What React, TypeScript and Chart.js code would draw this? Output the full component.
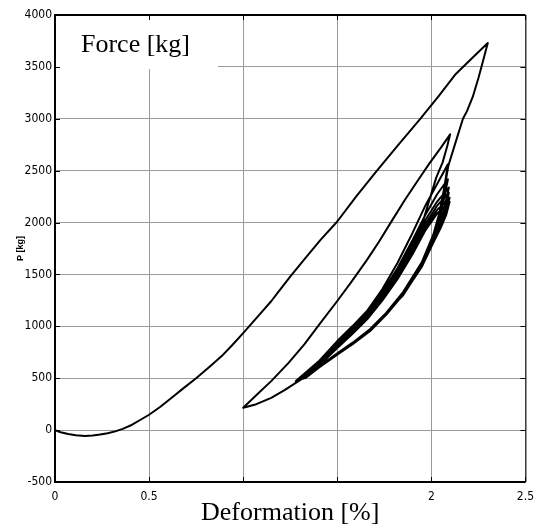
import React, { useEffect, useRef } from "react";
import { Chart, registerables } from "chart.js";

Chart.register(...registerables);

type Pt = [number, number];

// Deformation [%], P [kg], branch by branch
const virginLoading: Pt[] = [
  [0, 0], [0.03, -20], [0.07, -38], [0.11, -50], [0.16, -57], [0.2, -52], [0.24, -42],
  [0.28, -30], [0.32, -12], [0.36, 12], [0.41, 52], [0.45, 95], [0.5, 148], [0.56, 225],
  [0.62, 312], [0.68, 400], [0.75, 500], [0.82, 608], [0.886, 713], [0.94, 815], [1.0, 935],
  [1.09, 1120], [1.15, 1244], [1.184, 1324], [1.25, 1480], [1.325, 1646], [1.41, 1830],
  [1.5, 2010], [1.6, 2250], [1.71, 2497], [1.82, 2740], [1.94, 2996], [2.04, 3220],
  [2.13, 3432], [2.22, 3590], [2.30, 3730],
];
const firstUnloading: Pt[] = [
  [2.30, 3730], [2.275, 3560], [2.25, 3390], [2.22, 3210], [2.19, 3076], [2.168, 3000],
  [2.13, 2780], [2.09, 2545], [2.07, 2330], [2.045, 2060], [2.01, 1830], [1.96, 1620],
  [1.9, 1440], [1.85, 1300], [1.76, 1130], [1.675, 960], [1.58, 830], [1.5, 728],
  [1.4, 600], [1.3, 480], [1.22, 385], [1.149, 311], [1.07, 250], [1.0, 215],
];
const reload1: Pt[] = [
  [1.0, 215], [1.075, 345], [1.149, 472], [1.24, 645], [1.325, 826], [1.41, 1030],
  [1.5, 1244], [1.58, 1440], [1.658, 1640], [1.72, 1810], [1.79, 2016], [1.86, 2220],
  [1.93, 2410], [1.99, 2570], [2.05, 2720], [2.10, 2850],
];
const unload2: Pt[] = [
  [2.10, 2850], [2.085, 2740], [2.06, 2580], [2.026, 2433], [1.99, 2220], [1.956, 2015],
  [1.9, 1790], [1.83, 1560], [1.75, 1340], [1.66, 1120], [1.56, 910], [1.46, 740],
  [1.37, 590], [1.28, 472],
];
const reload3: Pt[] = [
  [1.28, 472], [1.4, 660], [1.5, 858], [1.58, 1000], [1.658, 1148], [1.74, 1360],
  [1.82, 1610], [1.9, 1900], [1.97, 2170], [2.03, 2370], [2.088, 2562],
];
const unload3: Pt[] = [
  [2.088, 2562], [2.07, 2350], [2.044, 2100], [2.01, 1880], [1.95, 1620], [1.85, 1330],
  [1.76, 1130], [1.675, 975], [1.58, 840], [1.5, 740], [1.4, 610], [1.3, 485],
];
const reload4: Pt[] = [
  [1.3, 485], [1.4, 640], [1.5, 830], [1.58, 975], [1.66, 1130], [1.74, 1330],
  [1.82, 1560], [1.9, 1830], [1.97, 2080], [2.03, 2270], [2.088, 2417],
];
const unload4: Pt[] = [
  [2.088, 2417], [2.07, 2250], [2.044, 2050], [2.01, 1850], [1.95, 1600], [1.85, 1318],
  [1.76, 1120], [1.675, 965], [1.58, 835], [1.5, 735], [1.4, 605], [1.31, 490],
];
const reload5: Pt[] = [
  [1.31, 490], [1.4, 630], [1.5, 815], [1.58, 960], [1.66, 1110], [1.74, 1300],
  [1.82, 1520], [1.9, 1780], [1.97, 2030], [2.03, 2200], [2.093, 2337],
];
const unload5: Pt[] = [
  [2.093, 2337], [2.075, 2190], [2.05, 2020], [2.01, 1835], [1.95, 1590], [1.85, 1312],
  [1.76, 1118], [1.675, 960], [1.58, 832], [1.5, 732], [1.4, 603], [1.32, 495],
];
const reload6: Pt[] = [
  [1.32, 495], [1.4, 625], [1.5, 805], [1.58, 945], [1.66, 1095], [1.74, 1280],
  [1.82, 1495], [1.9, 1750], [1.97, 1990], [2.03, 2160], [2.093, 2288],
];
const unload6: Pt[] = [
  [2.093, 2288], [2.075, 2150], [2.05, 1995], [2.01, 1825], [1.95, 1585], [1.85, 1310],
  [1.76, 1115], [1.675, 958], [1.58, 830], [1.5, 730], [1.4, 600], [1.32, 495],
];
const reload7: Pt[] = [
  [1.32, 495], [1.4, 620], [1.5, 795], [1.58, 935], [1.66, 1080], [1.74, 1265],
  [1.82, 1475], [1.9, 1720], [1.97, 1960], [2.03, 2120], [2.097, 2240],
];
const unload7: Pt[] = [
  [2.097, 2240], [2.08, 2110], [2.05, 1970], [2.01, 1815], [1.95, 1580], [1.85, 1308],
  [1.76, 1112], [1.675, 956], [1.58, 828], [1.5, 730], [1.4, 600], [1.33, 500],
];
const reload8: Pt[] = [
  [1.33, 500], [1.4, 615], [1.5, 790], [1.58, 925], [1.66, 1070], [1.74, 1250],
  [1.82, 1455], [1.9, 1695], [1.97, 1930], [2.03, 2085], [2.097, 2200],
];
const unload8: Pt[] = [
  [2.097, 2200], [2.08, 2080], [2.05, 1950], [2.01, 1805], [1.95, 1575], [1.85, 1305],
  [1.76, 1110], [1.675, 955], [1.58, 826], [1.5, 728],
];

const branches: Pt[][] = [
  virginLoading, firstUnloading, reload1, unload2, reload3, unload3, reload4, unload4,
  reload5, unload5, reload6, unload6, reload7, unload7, reload8, unload8,
];

const xTickValues = [0, 0.5, 1, 1.5, 2, 2.5];
const xTickLabels = ["0", "0.5", "", "", "2", "2.5"];
const yTickValues = [-500, 0, 500, 1000, 1500, 2000, 2500, 3000, 3500, 4000];
const yTickLabels = ["-500", "0", "500", "1000", "1500", "2000", "2500", "3000", "3500", "4000"];

const insetTitle = "Force [kg]";
const xTitle = "Deformation [%]";
const yTitle = "P [kg]";

const tickFont = "'Liberation Sans Narrow', 'Arial Narrow', 'DejaVu Sans Condensed', Arial, sans-serif";
const serifFont = "'Liberation Serif', 'Times New Roman', serif";

const framePlugin = {
  id: "frameAndInset",
  beforeDatasetsDraw(chart: any) {
    const { ctx, chartArea: a } = chart;
    ctx.save();
    ctx.fillStyle = "#ffffff";
    ctx.fillRect(a.left + 1, a.top + 1, 162, 53);
    ctx.fillStyle = "#000000";
    ctx.font = `26px ${serifFont}`;
    ctx.textBaseline = "alphabetic";
    ctx.textAlign = "left";
    ctx.fillText(insetTitle, a.left + 26, a.top + 37);
    ctx.restore();
  },
  afterDraw(chart: any) {
    const { ctx, chartArea: a, scales } = chart;
    ctx.save();
    ctx.strokeStyle = "#000000";
    ctx.lineWidth = 1;
    const t = 5;
    ctx.beginPath();
    xTickValues.forEach((v) => {
      const px = Math.round(scales.x.getPixelForValue(v)) + 0.5;
      ctx.moveTo(px, a.bottom);
      ctx.lineTo(px, a.bottom - t);
      ctx.moveTo(px, a.top);
      ctx.lineTo(px, a.top + t);
    });
    yTickValues.forEach((v) => {
      const py = Math.round(scales.y.getPixelForValue(v)) + 0.5;
      ctx.moveTo(a.left, py);
      ctx.lineTo(a.left + t, py);
      ctx.moveTo(a.right, py);
      ctx.lineTo(a.right - t, py);
    });
    ctx.stroke();
    // frame
    ctx.lineWidth = 2;
    ctx.beginPath();
    ctx.moveTo(a.right, a.top);
    ctx.lineTo(a.left, a.top);
    ctx.lineTo(a.left, a.bottom);
    ctx.lineTo(a.right, a.bottom);
    ctx.stroke();
    ctx.lineWidth = 1;
    ctx.beginPath();
    ctx.moveTo(a.right + 0.5, a.top);
    ctx.lineTo(a.right + 0.5, a.bottom);
    ctx.stroke();
    ctx.restore();
  },
};

export default function App() {
  const canvasRef = useRef<HTMLCanvasElement | null>(null);

  useEffect(() => {
    if (!canvasRef.current) return;
    const points = branches.flat().map(([x, y]) => ({ x, y }));
    const chart = new Chart(canvasRef.current, {
      type: "scatter",
      data: {
        datasets: [
          {
            data: points,
            showLine: true,
            borderColor: "#000000",
            backgroundColor: "#000000",
            borderWidth: 2,
            pointRadius: 0,
            tension: 0,
            fill: false,
            borderJoinStyle: "round",
          } as any,
        ],
      },
      options: {
        responsive: false,
        animation: false,
        devicePixelRatio: 1,
        layout: { padding: { top: 15, right: 12, left: 0, bottom: 0 } },
        plugins: { legend: { display: false }, tooltip: { enabled: false } },
        scales: {
          x: {
            type: "linear",
            min: 0,
            max: 2.5,
            afterBuildTicks: (s: any) => {
              s.ticks = xTickValues.map((v) => ({ value: v }));
            },
            afterFit: (s: any) => {
              s.height = 47;
            },
            ticks: {
              autoSkip: false,
              maxRotation: 0,
              padding: 8,
              color: "#000000",
              font: { family: tickFont, size: 12 },
              callback: (_v: any, i: number) => xTickLabels[i] ?? "",
            },
            grid: { color: "#9a9a9a", lineWidth: 1, drawTicks: false },
            border: { display: false },
            title: {
              display: true,
              text: xTitle,
              color: "#000000",
              font: { family: serifFont, size: 26, lineHeight: 1.1 },
              padding: { top: 0, bottom: 2 },
            },
          },
          y: {
            type: "linear",
            min: -500,
            max: 4000,
            afterBuildTicks: (s: any) => {
              s.ticks = yTickValues.map((v) => ({ value: v }));
            },
            afterFit: (s: any) => {
              s.width = 55;
            },
            ticks: {
              autoSkip: false,
              padding: 3,
              color: "#000000",
              font: { family: tickFont, size: 12 },
              callback: (_v: any, i: number) => yTickLabels[i] ?? "",
            },
            grid: { color: "#9a9a9a", lineWidth: 1, drawTicks: false },
            border: { display: false },
            title: {
              display: true,
              text: yTitle,
              color: "#000000",
              font: { family: "Arial, 'Liberation Sans', sans-serif", size: 9, weight: "bold" },
              padding: { top: 15, bottom: 0 },
            },
          },
        },
      },
      plugins: [framePlugin],
    });
    return () => chart.destroy();
  }, []);

  return (
    <div style={{ position: "absolute", left: 0, top: 0, width: 542, height: 529, background: "#fff" }}>
      <canvas ref={canvasRef} width={542} height={529} style={{ display: "block" }} />
    </div>
  );
}
